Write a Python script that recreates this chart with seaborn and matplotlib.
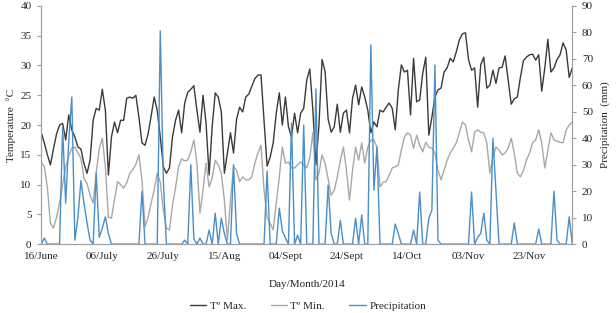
import numpy as np
import pandas as pd
import matplotlib.pyplot as plt
import seaborn as sns
from matplotlib.lines import Line2D

sns.set_style('white')
plt.rcParams['font.family'] = ['Liberation Serif', 'DejaVu Serif']

# daily values, 16 June -> 07 Dec 2014
tmax = [18.7, 17, 15, 13.3, 16, 18.5, 20, 20.3, 17.5, 21.7,
        19.2, 18, 16.3, 16, 13.5, 11.9, 14.1, 20.8, 22.8, 22.5,
        26, 22.5, 11.6, 18, 20.5, 18.7, 20.8, 20.8, 24.5, 24.7,
        24.5, 25, 21.3, 17, 16.6, 18.5, 21.5, 24.7, 22.5, 18,
        13, 11.9, 12.8, 18, 20.8, 22.5, 18.7, 23.7, 25.5, 26,
        26.6, 22.5, 18.8, 25, 20.3, 11.6, 19.7, 25.4, 24.7, 22.2,
        11.9, 15.3, 18.7, 15.3, 21, 23, 22.2, 24.7, 25.2, 26.5,
        27.8, 28.4, 28.4, 20.8, 13.1, 14.6, 17, 22, 25.4, 20,
        24.7, 19.7, 18, 22, 18.7, 22, 22.8, 27.6, 29.4, 22.5,
        13.3, 20, 31, 29, 21, 18.8, 19.7, 23.5, 18.8, 22,
        22.5, 18.7, 24.5, 26.7, 23.4, 26.4, 24.7, 22.5, 18.7, 20.5,
        19.7, 22.5, 22.2, 23, 23.7, 22.8, 19.2, 25.9, 30.1, 28.9,
        29.2, 21.7, 31.2, 23.9, 24.2, 28.7, 31.4, 18.3, 21.3, 24.7,
        25.9, 26.2, 28.9, 29.6, 31.2, 30.6, 32.3, 34.3, 35.3, 35.5,
        31, 29.2, 29.6, 23, 30.1, 31.4, 26.2, 26.7, 29.2, 27,
        29.6, 29.7, 31.6, 27.6, 23.5, 24.4, 24.7, 28, 30.8, 31.4,
        31.8, 31.9, 30.9, 31.8, 25.7, 29.6, 34.4, 28.9, 29.6, 31,
        31.8, 33.8, 32.6, 28, 29.6]

tmin = [13.8, 13, 9.5, 3.5, 2.7, 4.5, 7, 10, 13, 14.8,
        16.1, 16.3, 15.3, 14.4, 11, 10.2, 8.2, 6.9, 12, 16,
        17.8, 13, 4.5, 4.4, 7.5, 10.5, 10, 9.4, 10.3, 11.9,
        12.5, 13.4, 15, 10.8, 2.9, 4.5, 6.9, 9.1, 11.9, 10.4,
        5.7, 2.7, 2.4, 6.5, 9.5, 13, 14.3, 14, 14.1, 15.5,
        17.5, 13.6, 5.2, 9.1, 13.6, 9.6, 11.1, 14.1, 13.3, 11.9,
        7.4, 0.7, 7.4, 13, 12.4, 10.5, 11.3, 10.8, 10.8, 11.3,
        13.6, 15.3, 16.6, 9.1, 4.4, 3.5, 2.4, 6.9, 11.3, 16.3,
        13.6, 13.8, 12.8, 12.8, 13.3, 13.8, 13.3, 12.8, 14.6, 18.7,
        10.8, 11.9, 15, 13.6, 11, 8.2, 9, 11.3, 14.1, 16.3,
        12.4, 7.4, 12.4, 16.3, 14.1, 17, 13.6, 16.3, 17.5, 17.5,
        16.3, 9.6, 10.4, 10.5, 11.6, 12.8, 13, 13.3, 15.8, 18,
        18.7, 18.3, 16.1, 18.3, 16.6, 15.5, 17.1, 16.3, 16.1, 15.3,
        12.4, 10.8, 12.4, 14.1, 15.3, 16.1, 17, 18.7, 20.5, 20,
        17.5, 15.5, 18.8, 19.2, 18.8, 18.7, 17, 11.9, 14.6, 16.3,
        15.8, 15, 15.3, 16.1, 17.8, 15.3, 11.9, 11.3, 12.4, 14.1,
        15.3, 17, 17.5, 19.2, 17, 12.8, 15.8, 18.7, 17.5, 17.3,
        17.1, 17, 19.2, 20, 20.5]

prec = [0, 2.3, 0, 0, 0, 0, 0, 44, 15.5, 39,
        55.6, 1.5, 10, 24, 15.5, 8, 1.5, 0, 27, 2.6,
        6, 10.3, 4, 0, 0, 0, 0, 0, 0, 0,
        0, 0, 0, 20, 0, 0, 0, 0, 0, 80.6,
        24, 0, 0, 0, 0, 0, 0, 1.5, 0, 30,
        2, 0, 2.3, 0, 0, 5.3, 0, 11.7, 0, 9.8,
        4, 0, 0, 30, 4, 0, 0, 0, 0, 0,
        0, 0, 0, 0, 27.6, 0, 0, 0, 13.6, 5,
        2.3, 0, 45.7, 0, 3.4, 0, 45, 0, 0, 0,
        58.6, 0, 0, 0, 22.3, 4, 0, 0, 9, 0,
        0, 0, 0, 9.8, 0, 11, 0, 0, 75.3, 20.4,
        36.7, 0, 0, 0, 0, 0, 7.6, 4, 0, 0,
        0, 0, 5.3, 0, 19.7, 0, 0, 9.8, 12.9, 67.7,
        1.5, 0, 0, 0, 0, 0, 0, 0, 0, 0,
        0, 19.7, 0, 2.6, 4, 11.7, 1.5, 0, 40, 20,
        0, 0, 0, 0, 0, 8, 0, 0, 0, 0,
        0, 0, 0, 5.7, 0, 0, 0, 0, 20, 1.5,
        0, 0, 0, 10.3, 0]

tick_labels = ['16/June', '06/July', '26/July', '15/Aug', '04/Sept',
               '24/Sept', '14/Oct', '03/Nov', '23/Nov']

df = pd.DataFrame({'day': np.arange(len(tmax)), 'tmax': tmax,
                   'tmin': tmin, 'prec': prec})

c_max, c_min, c_pr = '#3a3a3a', '#a8a8a8', '#4a8fc9'
spine_c = '#a0a0a0'

fig, ax = plt.subplots(figsize=(6.16, 3.13), dpi=100)
fig.subplots_adjust(left=0.067, right=0.929, top=0.981, bottom=0.22)
ax2 = ax.twinx()

sns.lineplot(data=df, x='day', y='tmax', ax=ax, color=c_max, lw=1)
sns.lineplot(data=df, x='day', y='tmin', ax=ax, color=c_min, lw=1)
sns.lineplot(data=df, x='day', y='prec', ax=ax2, color=c_pr, lw=1)

ax.set_xlim(0, len(tmax) - 1)
ax.set_ylim(0, 40)
ax2.set_ylim(0, 90)
ax.set_yticks(range(0, 41, 5))
ax2.set_yticks(range(0, 91, 10))
ax.set_xticks(range(0, 20 * len(tick_labels), 20))
ax.set_xticklabels(tick_labels)
ax.set_xticks(df['day'], minor=True)

for a in (ax, ax2):
    a.tick_params(labelsize=8, length=3, color=spine_c, direction='out', pad=2)
    a.tick_params(axis='x', which='minor', length=2.5, color=spine_c)
    for s in a.spines.values():
        s.set_color(spine_c)
        s.set_linewidth(0.8)
    a.spines['top'].set_visible(False)
ax.tick_params(axis='x', which='major', length=3, pad=3)
ax.tick_params(axis='y', which='both', left=True, pad=4)
ax2.tick_params(axis='y', right=True, pad=4)

ax.set_xlabel('Day/Month/2014', fontsize=8, labelpad=13)
ax.set_ylabel('Temperature  °C', fontsize=8, labelpad=3)
ax2.set_ylabel('Precipitation  (mm)', fontsize=8, labelpad=5)

handles = [Line2D([], [], color=c_max, lw=1),
           Line2D([], [], color=c_min, lw=1),
           Line2D([], [], color=c_pr, lw=1)]
fig.legend(handles, ['Tº Max.', 'Tº Min.', 'Precipitation'], loc='lower center',
           bbox_to_anchor=(0.5, -0.025), ncol=3, frameon=False, fontsize=8,
           handlelength=1.5, handletextpad=0.3, columnspacing=2.2)

plt.savefig('out.png', dpi=100)
